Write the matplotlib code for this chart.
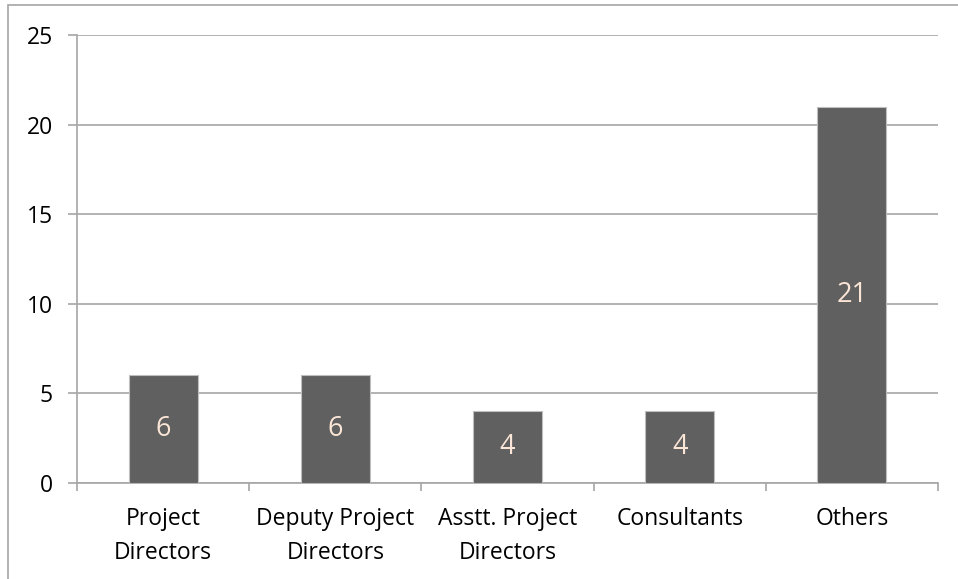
import matplotlib.pyplot as plt
from matplotlib.patches import Rectangle

categories = ["Project\nDirectors", "Deputy Project\nDirectors", "Asstt. Project\nDirectors",
              "Consultants", "Others"]
values = [6, 6, 4, 4, 21]

plt.rcParams['font.family'] = ['Open Sans', 'DejaVu Sans']

fig = plt.figure(figsize=(9.58, 5.79), dpi=100)
ax = fig.add_axes([77 / 958, 1 - 483 / 579, (938 - 77) / 958, (483 - 35) / 579])

x = range(len(values))
bars = ax.bar(x, values, width=0.4, color='#606060', edgecolor='#bfbfbf', linewidth=0.8, zorder=3)
for b, v in zip(bars, values):
    ax.text(b.get_x() + b.get_width() / 2, v / 2, str(v), ha='center', va='center',
            color='#fbe5d6', fontsize=19.5, zorder=4)

ax.set_xlim(-0.5, len(values) - 0.5)
ax.set_ylim(0, 25)
ax.set_yticks(range(0, 26, 5))
ax.yaxis.grid(True, color='#a6a6a6', linewidth=1.2, zorder=0)
ax.set_axisbelow(True)

ax.set_xticks([i + 0.5 for i in range(-1, len(values))], minor=False)
ax.set_xticklabels([])
ax.set_xticks(list(x), minor=True)
ax.set_xticklabels(categories, minor=True, fontsize=16.5, linespacing=1.55)
ax.tick_params(axis='x', which='minor', length=0, pad=17.5)
ax.tick_params(axis='x', which='major', length=6, color='#a6a6a6', width=1.2)
ax.tick_params(axis='y', length=6.5, color='#a6a6a6', width=1.2, labelsize=16.5, pad=11)

for s in ['top', 'right']:
    ax.spines[s].set_visible(False)
for s in ['left', 'bottom']:
    ax.spines[s].set_color('#a6a6a6')
    ax.spines[s].set_linewidth(1.2)

fig.patches.append(Rectangle((8 / 958, -0.1), 1.2, 1.1 - 5 / 579, transform=fig.transFigure,
                             fill=False, edgecolor='#a6a6a6', linewidth=1.2))

fig.savefig('out.png', dpi=100)
